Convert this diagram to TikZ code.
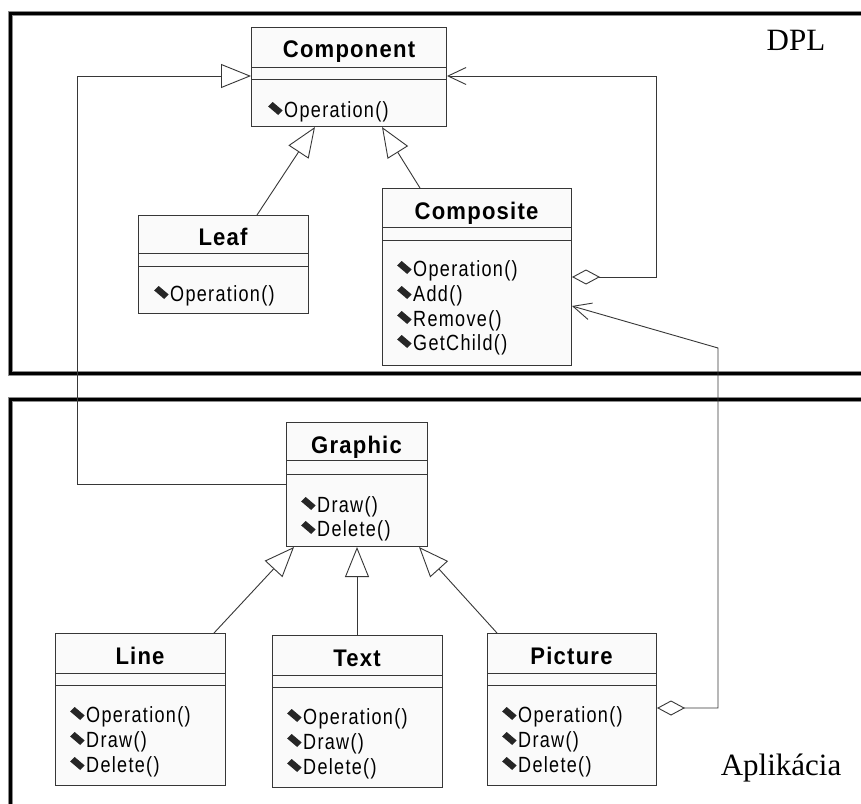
\documentclass[tikz,border=0pt]{standalone}
\usepackage{fontspec}
\setmainfont{Liberation Sans}
\newfontfamily\opfont[LetterSpace=6,FakeStretch=0.82]{Liberation Sans}
\newfontfamily\ttlfont[LetterSpace=5,FakeStretch=0.92]{Liberation Sans}
\newfontfamily\labfont{Liberation Serif}
\usetikzlibrary{arrows.meta}
\definecolor{boxfill}{RGB}{250,250,250}
\definecolor{edge}{RGB}{55,55,55}
\newcommand{\opic}{\tikz[x=1pt,y=1pt,baseline=0pt]{\fill[black!85] (0,10.5) -- (4.5,15) -- (14.5,6.5) -- (10,2) -- cycle;}\hspace{1.5pt}}
\tikzset{
  cls/.style={draw=edge, fill=boxfill, line width=1pt, inner sep=0pt, anchor=north west},
  divider/.style={draw=edge, line width=1pt},
  ttl/.style={inner sep=0pt, anchor=base, font=\ttlfont\bfseries\fontsize{24}{28}\selectfont},
  op/.style={inner sep=0pt, anchor=base west, font=\opfont\fontsize{22}{26}\selectfont},
  lab/.style={inner sep=0pt, anchor=base, font=\labfont\fontsize{31}{36}\selectfont},
  conn/.style={draw=edge, line width=0.9pt, line join=miter},
  gen/.style={conn, -{Triangle[length=30pt,width=24pt,fill=white,line width=0.9pt]}},
  agg/.style={conn, {Diamond[length=28pt,width=15pt,fill=white,line width=0.9pt]}-{Straight Barb[length=18pt,width=17pt,line width=0.9pt]}},
  frameback/.style={draw=black!45, line width=5pt},
  framefront/.style={draw=black, line width=3pt},
}
\begin{document}
\begin{tikzpicture}[x=1pt,y=-1pt]
\clip (0,0) rectangle (861,803);
\fill[white] (0,0) rectangle (861,803);

% package frames
\draw[frameback] (870,13) -- (10.5,13) -- (10.5,373) -- (870,373);
\draw[framefront] (870,13) -- (10.5,13) -- (10.5,373) -- (870,373);
\draw[frameback] (870,399) -- (10.5,399) -- (10.5,810);
\draw[framefront] (870,399) -- (10.5,399) -- (10.5,810);
\node[lab] (dpl) at (796,50) {DPL};
\node[lab] (apl) at (781,775) {Aplikácia};

% Component
\node[cls, minimum width=195pt, minimum height=99pt] (comp) at (251,27) {};
\node[ttl] (compT) at (349,57.5) {Component};
\draw[divider] (comp.west |- 0,67) -- (comp.east |- 0,67);
\draw[divider] (comp.west |- 0,79) -- (comp.east |- 0,79);
\node[op] (compO1) at (268,117) {\opic Operation()};

% Leaf
\node[cls, minimum width=170pt, minimum height=98pt] (leaf) at (138,215) {};
\node[ttl] (leafT) at (223,245) {Leaf};
\draw[divider] (leaf.west |- 0,253) -- (leaf.east |- 0,253);
\draw[divider] (leaf.west |- 0,266) -- (leaf.east |- 0,266);
\node[op] (leafO1) at (154,301) {\opic Operation()};

% Composite
\node[cls, minimum width=189pt, minimum height=177pt] (compo) at (382,188) {};
\node[ttl] (compoT) at (476.5,219) {Composite};
\draw[divider] (compo.west |- 0,227) -- (compo.east |- 0,227);
\draw[divider] (compo.west |- 0,240) -- (compo.east |- 0,240);
\node[op] (compoO1) at (397,276) {\opic Operation()};
\node[op] (compoO2) at (397,301) {\opic Add()};
\node[op] (compoO3) at (397,326) {\opic Remove()};
\node[op] (compoO4) at (397,350) {\opic GetChild()};

% Graphic
\node[cls, minimum width=141pt, minimum height=124pt] (graphic) at (286,422) {};
\node[ttl] (graphicT) at (356.5,453) {Graphic};
\draw[divider] (graphic.west |- 0,460) -- (graphic.east |- 0,460);
\draw[divider] (graphic.west |- 0,474) -- (graphic.east |- 0,474);
\node[op] (graphicO1) at (301,512) {\opic Draw()};
\node[op] (graphicO2) at (301,536) {\opic Delete()};

% Line
\node[cls, minimum width=170pt, minimum height=152pt] (line) at (55,633) {};
\node[ttl] (lineT) at (140,664) {Line};
\draw[divider] (line.west |- 0,673) -- (line.east |- 0,673);
\draw[divider] (line.west |- 0,685) -- (line.east |- 0,685);
\node[op] (lineO1) at (70,722) {\opic Operation()};
\node[op] (lineO2) at (70,747) {\opic Draw()};
\node[op] (lineO3) at (70,772) {\opic Delete()};

% Text
\node[cls, minimum width=170pt, minimum height=152pt] (text) at (272,635) {};
\node[ttl] (textT) at (357,666) {Text};
\draw[divider] (text.west |- 0,675) -- (text.east |- 0,675);
\draw[divider] (text.west |- 0,687) -- (text.east |- 0,687);
\node[op] (textO1) at (287,724) {\opic Operation()};
\node[op] (textO2) at (287,749) {\opic Draw()};
\node[op] (textO3) at (287,774) {\opic Delete()};

% Picture
\node[cls, minimum width=169pt, minimum height=152pt] (picture) at (487,633) {};
\node[ttl] (pictureT) at (571.5,664) {Picture};
\draw[divider] (picture.west |- 0,673) -- (picture.east |- 0,673);
\draw[divider] (picture.west |- 0,685) -- (picture.east |- 0,685);
\node[op] (pictureO1) at (502,722) {\opic Operation()};
\node[op] (pictureO2) at (502,747) {\opic Draw()};
\node[op] (pictureO3) at (502,772) {\opic Delete()};

% bend points
\coordinate (gb1) at (77,484);
\coordinate (gb2) at (77,76);
\coordinate (ca1) at (656,277);
\coordinate (ca2) at (656,76);
\coordinate (pa1) at (718,708);
\coordinate (pa2) at (718,348);

% generalizations
\draw[gen] (leaf.north -| 257,0) -- (comp.south -| 315,0);
\draw[gen] (compo.north -| 420,0) -- (comp.south -| 382,0);
\draw[gen] (graphic.west |- 0,484) -- (gb1) -- (gb2) -- (comp.west |- 0,76);
\draw[gen] (line.north -| 214,0) -- (graphic.south -| 294,0);
\draw[gen] (text.north -| 357,0) -- (graphic.south -| 357,0);
\draw[gen] (picture.north -| 497,0) -- (graphic.south -| 419,0);

% aggregations
\draw[agg] (compo.east |- 0,277) -- (ca1) -- (ca2) -- (comp.east |- 0,76);
\draw[agg] (picture.east |- 0,708) -- (pa1) -- (pa2) -- (compo.east |- 0,306);
\end{tikzpicture}
\end{document}
